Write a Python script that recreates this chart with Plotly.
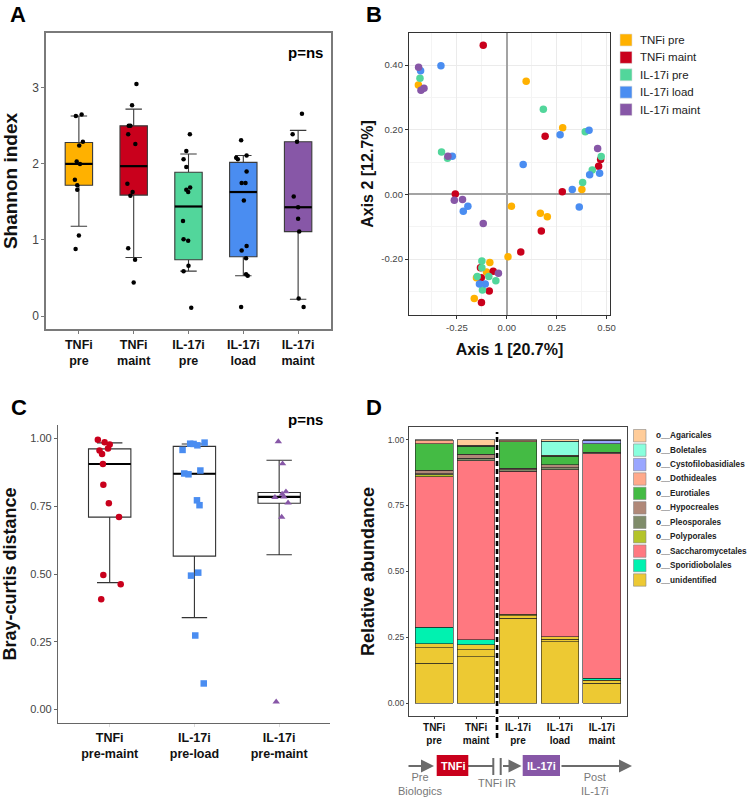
import plotly.graph_objects as go

W, H = 750, 799
FONT = "Liberation Sans, Arial, Helvetica, sans-serif"

# ---------------- data ----------------
groups = ["TNFi pre", "TNFi maint", "IL-17i pre", "IL-17i load", "IL-17i maint"]
group_ticks = ["TNFi<br>pre", "TNFi<br>maint", "IL-17i<br>pre", "IL-17i<br>load", "IL-17i<br>maint"]
group_colors = ["#FFB100", "#C9001C", "#52D69B", "#4A8DF1", "#8757A7"]

# A - Shannon index
shannon_q1 = [1.72, 1.59, 0.74, 0.78, 1.11]
shannon_med = [2.00, 1.97, 1.44, 1.63, 1.43]
shannon_q3 = [2.28, 2.50, 1.89, 2.02, 2.29]
shannon_lo = [1.18, 0.77, 0.59, 0.53, 0.22]
shannon_hi = [2.63, 2.72, 2.13, 2.11, 2.44]
shannon_pts = [
    [2.63, 2.65, 2.29, 2.24, 2.03, 2.00, 1.79, 1.72, 1.66, 1.06, 0.88],
    [3.05, 2.77, 2.50, 2.50, 2.39, 2.26, 1.74, 1.63, 1.58, 0.89, 0.74, 0.44],
    [2.39, 2.17, 2.06, 1.96, 1.69, 1.66, 1.63, 1.25, 1.01, 0.99, 0.66, 0.59, 0.11],
    [2.31, 2.11, 2.08, 2.06, 1.90, 1.75, 1.75, 1.52, 0.92, 0.86, 0.76, 0.55, 0.53, 0.12],
    [2.66, 2.39, 2.29, 1.57, 1.43, 1.28, 1.11, 0.23, 0.12],
]
shannon_jit = [
    [-0.055, 0.05, 0.073, 0.006, -0.04, 0.02, -0.073, -0.03, -0.03, 0.0, -0.06],
    [0.05, -0.03, -0.09, -0.06, -0.10, 0.03, -0.115, -0.02, -0.06, -0.10, 0.025, 0.0],
    [0.025, -0.04, -0.09, -0.04, 0.03, -0.04, -0.006, -0.10, -0.09, -0.006, 0.0, -0.09, 0.05],
    [-0.04, 0.06, -0.13, -0.10, 0.06, -0.03, 0.04, 0.01, 0.06, -0.03, 0.05, 0.05, 0.08, -0.04],
    [0.07, -0.10, -0.02, -0.08, 0.0, 0.0, 0.02, 0.01, 0.10],
]

# B - PCoA
pcoa_x = [
    [-0.443, -0.085, -0.102, -0.152, -0.163, 0.006, 0.097, 0.280, 0.376, 0.023, 0.168, 0.203],
    [-0.118, -0.258, -0.132, -0.068, -0.128, -0.088, -0.127, 0.070, 0.192, 0.470, 0.460, 0.278, 0.173],
    [-0.435, -0.327, -0.297, -0.125, -0.125, -0.148, -0.090, -0.055, -0.122, 0.183, 0.393, 0.473, 0.428, 0.380],
    [-0.432, -0.330, -0.273, -0.195, -0.218, -0.137, -0.108, 0.267, 0.412, 0.465, 0.415, 0.328, 0.082, 0.363],
    [-0.442, -0.430, -0.415, -0.295, -0.263, -0.222, -0.118, -0.042, 0.455],
]
pcoa_y = [
    [0.338, -0.211, -0.240, -0.258, -0.322, -0.193, 0.350, 0.206, 0.015, -0.037, -0.058, -0.069],
    [0.461, 0.001, -0.227, -0.238, -0.258, -0.299, -0.334, -0.178, 0.180, 0.108, 0.087, 0.008, -0.113],
    [0.359, 0.131, 0.112, -0.206, -0.227, -0.254, -0.254, -0.267, -0.296, 0.263, 0.194, 0.117, 0.075, 0.037],
    [0.382, 0.398, 0.118, -0.037, -0.052, -0.277, -0.277, 0.184, 0.198, 0.065, 0.061, 0.015, 0.092, -0.039],
    [0.393, 0.322, 0.328, 0.118, -0.018, -0.016, -0.090, -0.244, 0.142],
]

# C - Bray-curtis distance
bc_ticks = ["TNFi<br>pre-maint", "IL-17i<br>pre-load", "IL-17i<br>pre-maint"]
bc_colors = ["#C9001C", "#4A8DF1", "#8757A7"]
bc_symbols = ["circle", "square", "triangle-up"]
bc_q1 = [0.710, 0.566, 0.761]
bc_med = [0.906, 0.870, 0.785]
bc_q3 = [0.962, 0.971, 0.801]
bc_lo = [0.468, 0.339, 0.571]
bc_hi = [0.984, 0.980, 0.920]
bc_pts = [
    [0.996, 0.986, 0.978, 0.963, 0.956, 0.943, 0.906, 0.829, 0.761, 0.710, 0.496, 0.462, 0.407],
    [0.981, 0.980, 0.975, 0.985, 0.958, 0.871, 0.868, 0.882, 0.772, 0.754, 0.494, 0.505, 0.273, 0.096],
    [0.989, 0.907, 0.804, 0.795, 0.783, 0.785, 0.763, 0.710, 0.028],
]
bc_jit = [
    [-0.14, -0.06, 0.0, -0.02, -0.12, -0.09, -0.08, -0.075, -0.01, 0.11, -0.075, 0.13, -0.10],
    [-0.05, -0.01, 0.035, 0.12, -0.14, -0.12, -0.07, 0.07, 0.03, 0.06, -0.04, 0.045, 0.01, 0.11],
    [-0.01, 0.04, 0.08, 0.035, -0.05, 0.055, 0.105, 0.03, -0.035],
]

# D - relative abundance (stacked bottom -> top)
order_names = ["o__Agaricales", "o__Boletales", "o__Cystofilobasidiales", "o__Dothideales",
               "o__Eurotiales", "o__Hypocreales", "o__Pleosporales", "o__Polyporales",
               "o__Saccharomycetales", "o__Sporidiobolales", "o__unidentified"]
order_colors = ["#FFCC99", "#88FFDD", "#99A6FF", "#FFA98A", "#44BB44", "#B08878",
                "#7F8C6A", "#B4C42A", "#FF7880", "#00F2B0", "#EDC933"]
unid_a = [0.152, 0.176, 0.322, 0.233, 0.076]
unid_b = [0.058, 0.027, 0.009, 0.010, 0.010]
unid_c = [0.016, 0.019, 0.006, 0.008, 0.0]
sporidiobolales = [0.062, 0.018, 0.0, 0.0, 0.008]
saccharomycetales = [0.571, 0.680, 0.544, 0.635, 0.853]
polyporales = [0.008, 0.0, 0.0, 0.0, 0.0]
pleosporales = [0.004, 0.010, 0.005, 0.008, 0.0]
hypocreales = [0.012, 0.014, 0.006, 0.010, 0.005]
eurotiales = [0.102, 0.031, 0.100, 0.033, 0.033]
dothideales = [0.010, 0.004, 0.004, 0.004, 0.0]
cystofilobasidiales = [0.0, 0.0, 0.0, 0.0, 0.012]
boletales = [0.0, 0.0, 0.0, 0.052, 0.0]
agaricales = [0.005, 0.021, 0.004, 0.007, 0.003]


def xdom(a, b):
    return [a / W, b / W]


def ydom(top, bottom):
    return [1 - bottom / H, 1 - top / H]


def px(x):
    return x / W


def py(y):
    return 1 - y / H


def label(text, x, y, size, color="black", anchor="center", weight="normal"):
    return dict(text=text, x=px(x), y=py(y), xref="paper", yref="paper",
                xanchor=anchor, yanchor="middle", showarrow=False,
                font=dict(family=FONT, size=size, color=color, weight=weight))


fig = go.Figure()

# ---------- A ----------
for i, g in enumerate(groups):
    fig.add_trace(go.Box(x=[i], q1=[shannon_q1[i]], median=[shannon_med[i]], q3=[shannon_q3[i]],
                         lowerfence=[shannon_lo[i]], upperfence=[shannon_hi[i]],
                         width=0.5, whiskerwidth=0.6, fillcolor=group_colors[i],
                         line=dict(color="#3a3a3a", width=1.1), boxpoints=False,
                         xaxis="x", yaxis="y", showlegend=False, hoverinfo="skip"))
mx, my = [], []
for i, m in enumerate(shannon_med):
    mx += [i - 0.25, i + 0.25, None]
    my += [m, m, None]
fig.add_trace(go.Scatter(x=mx, y=my, mode="lines", line=dict(color="black", width=2.2),
                         xaxis="x", yaxis="y", showlegend=False, hoverinfo="skip"))
for i, pts in enumerate(shannon_pts):
    fig.add_trace(go.Scatter(x=[i + j for j in shannon_jit[i]], y=pts, mode="markers",
                             marker=dict(color="black", size=4.5), xaxis="x", yaxis="y",
                             showlegend=False))

# ---------- B ----------
for i, g in enumerate(groups):
    fig.add_trace(go.Scatter(x=pcoa_x[i], y=pcoa_y[i], mode="markers", name=g,
                             marker=dict(color=group_colors[i], size=7.5),
                             xaxis="x2", yaxis="y2", showlegend=False))

# ---------- C ----------
for i in range(len(bc_ticks)):
    fig.add_trace(go.Box(x=[i], q1=[bc_q1[i]], median=[bc_med[i]], q3=[bc_q3[i]],
                         lowerfence=[bc_lo[i]], upperfence=[bc_hi[i]],
                         width=0.5, whiskerwidth=0.6, fillcolor="white",
                         line=dict(color="#333333", width=1.1), boxpoints=False,
                         xaxis="x3", yaxis="y3", showlegend=False, hoverinfo="skip"))
mx, my = [], []
for i, m in enumerate(bc_med):
    mx += [i - 0.25, i + 0.25, None]
    my += [m, m, None]
fig.add_trace(go.Scatter(x=mx, y=my, mode="lines", line=dict(color="black", width=2.2),
                         xaxis="x3", yaxis="y3", showlegend=False, hoverinfo="skip"))
for i, pts in enumerate(bc_pts):
    fig.add_trace(go.Scatter(x=[i + j for j in bc_jit[i]], y=pts, mode="markers",
                             marker=dict(color=bc_colors[i], size=6.5, symbol=bc_symbols[i]),
                             xaxis="x3", yaxis="y3", showlegend=False))

# ---------- D ----------
stack = [
    (unid_a, "o__unidentified"), (unid_b, "o__unidentified"), (unid_c, "o__unidentified"),
    (sporidiobolales, "o__Sporidiobolales"), (saccharomycetales, "o__Saccharomycetales"),
    (polyporales, "o__Polyporales"), (pleosporales, "o__Pleosporales"),
    (hypocreales, "o__Hypocreales"), (eurotiales, "o__Eurotiales"),
    (dothideales, "o__Dothideales"), (cystofilobasidiales, "o__Cystofilobasidiales"),
    (boletales, "o__Boletales"), (agaricales, "o__Agaricales"),
]
for vals, name in stack:
    fig.add_trace(go.Bar(x=list(range(len(groups))), y=[v if v else None for v in vals],
                         name=name, width=0.9,
                         marker=dict(color=order_colors[order_names.index(name)],
                                     line=dict(color="#222222", width=0.6)),
                         xaxis="x4", yaxis="y4", showlegend=False))

# ---------- axes ----------
bold_tick = dict(family=FONT, size=12.5, color="#111111", weight="bold")
title_font = dict(family=FONT, size=19, color="#111111", weight="bold")

A_x, A_y = xdom(46, 331), ydom(33, 329)
B_x, B_y = xdom(409, 610), ydom(33, 315)
C_x, C_y = xdom(58, 330), ydom(425, 723)
D_x, D_y = xdom(409, 627), ydom(427, 716)
D_range = [-0.6, 4.6]

fig.update_layout(
    width=W, height=H, margin=dict(l=0, r=0, t=0, b=0, autoexpand=False),
    paper_bgcolor="white", plot_bgcolor="white", barmode="stack",
    font=dict(family=FONT), showlegend=False,
    xaxis=dict(domain=A_x, anchor="y", range=[-0.6, 4.6], tickvals=list(range(5)),
               ticktext=group_ticks, tickfont=bold_tick, showgrid=False, zeroline=False,
               showline=True, mirror=True, linecolor="#7a7a7a", linewidth=1.5,
               ticks="outside", ticklen=3, tickcolor="#7a7a7a", automargin=False),
    yaxis=dict(domain=A_y, anchor="x", range=[-0.17, 3.72], tickvals=[0, 1, 2, 3],
               tickfont=dict(family=FONT, size=12, color="#444444"), showgrid=False, zeroline=False,
               showline=True, mirror=True, linecolor="#7a7a7a", linewidth=1.5,
               ticks="outside", ticklen=3, tickcolor="#7a7a7a", automargin=False,
               title=dict(text="Shannon index", font=title_font, standoff=12)),
    xaxis2=dict(domain=B_x, anchor="y2", range=[-0.49, 0.517],
                tickvals=[-0.25, 0, 0.25, 0.5], ticktext=["-0.25", "0.00", "0.25", "0.50"],
                tickfont=dict(family=FONT, size=9.5, color="#444444"),
                showgrid=True, gridcolor="#EBEBEB", gridwidth=1,
                minor=dict(tickvals=[-0.375, -0.125, 0.125, 0.375], showgrid=True,
                           gridcolor="#F4F4F4", gridwidth=0.6),
                zeroline=True, zerolinecolor="#A3A3A3", zerolinewidth=1.5,
                showline=True, mirror=True, linecolor="#333333", linewidth=1.3,
                ticks="outside", ticklen=3, tickcolor="#333333", automargin=False,
                title=dict(text="Axis 1 [20.7%]", font=dict(family=FONT, size=16, color="#111111", weight="bold"), standoff=12)),
    yaxis2=dict(domain=B_y, anchor="x2", range=[-0.373, 0.499],
                tickvals=[-0.2, 0, 0.2, 0.4], ticktext=["-0.20", "0.00", "0.20", "0.40"],
                tickfont=dict(family=FONT, size=9.5, color="#444444"),
                showgrid=True, gridcolor="#EBEBEB", gridwidth=1,
                minor=dict(tickvals=[-0.3, -0.1, 0.1, 0.3], showgrid=True,
                           gridcolor="#F4F4F4", gridwidth=0.6),
                zeroline=True, zerolinecolor="#A3A3A3", zerolinewidth=1.5,
                showline=True, mirror=True, linecolor="#333333", linewidth=1.3,
                ticks="outside", ticklen=3, tickcolor="#333333", automargin=False,
                title=dict(text="Axis 2 [12.7%]", font=dict(family=FONT, size=16, color="#111111", weight="bold"), standoff=3)),
    xaxis3=dict(domain=C_x, anchor="y3", range=[-0.61, 2.6], tickvals=[0, 1, 2],
                ticktext=bc_ticks, tickfont=bold_tick, showgrid=False, zeroline=False,
                showline=True, linecolor="#666666", linewidth=1.3,
                ticks="outside", ticklen=3, tickcolor="#dddddd", automargin=False),
    yaxis3=dict(domain=C_y, anchor="x3", range=[-0.05, 1.05],
                tickvals=[0, 0.25, 0.5, 0.75, 1.0], ticktext=["0.00", "0.25", "0.50", "0.75", "1.00"],
                tickfont=dict(family=FONT, size=11, color="#444444"), showgrid=False, zeroline=False,
                showline=True, linecolor="#666666", linewidth=1.3,
                ticks="outside", ticklen=3, tickcolor="#666666", automargin=False,
                title=dict(text="Bray-curtis distance", font=dict(family=FONT, size=18, color="#111111", weight="bold"), standoff=12)),
    xaxis4=dict(domain=D_x, anchor="y4", range=D_range, tickvals=list(range(5)),
                ticktext=group_ticks, tickfont=dict(family=FONT, size=10, color="#111111", weight="bold"),
                showgrid=False, zeroline=False,
                showline=True, mirror=True, linecolor="#444444", linewidth=1.2,
                ticks="outside", ticklen=2, tickcolor="#444444", automargin=False),
    yaxis4=dict(domain=D_y, anchor="x4", range=[-0.049, 1.048],
                tickvals=[0, 0.25, 0.5, 0.75, 1.0], ticktext=["0.00", "0.25", "0.50", "0.75", "1.00"],
                tickfont=dict(family=FONT, size=8.5, color="#444444"), showgrid=False, zeroline=False,
                showline=True, mirror=True, linecolor="#444444", linewidth=1.2,
                ticks="outside", ticklen=2, tickcolor="#444444", automargin=False,
                title=dict(text="Relative abundance", font=dict(family=FONT, size=18, color="#111111", weight="bold"), standoff=8)),
)

shapes = []
annotations = []

# panel letters and p values
for letter, x, y in [("A", 18, 14), ("B", 374, 14), ("C", 19, 408), ("D", 374, 408)]:
    annotations.append(label(letter, x, y, 22, weight="bold"))
for x, y in [(305, 52), (305, 419)]:
    annotations.append(label("p=ns", x, y, 15, weight="bold"))

# legend B
for i, g in enumerate(groups):
    cy = 40 + i * 17.4
    shapes.append(dict(type="rect", xref="paper", yref="paper", x0=px(620), x1=px(632),
                       y0=py(cy + 6), y1=py(cy - 6), fillcolor=group_colors[i],
                       line=dict(color="#dddddd", width=0.6)))
    annotations.append(label(g, 638, cy, 11.5, color="#222222", anchor="left"))

# legend D
for i, name in enumerate(order_names):
    cy = 435.7 + i * 14.43
    shapes.append(dict(type="rect", xref="paper", yref="paper", x0=px(633.5), x1=px(646),
                       y0=py(cy + 6.2), y1=py(cy - 6.2), fillcolor=order_colors[i],
                       line=dict(color="#888888", width=0.6)))
    annotations.append(label(name, 654, cy, 8.2, color="#222222", anchor="left", weight="bold"))

# dashed separator in D between TNFi and IL-17i samples
sep = D_x[0] + (1.5 - D_range[0]) / (D_range[1] - D_range[0]) * (D_x[1] - D_x[0])
shapes.append(dict(type="line", xref="paper", yref="paper", x0=sep, x1=sep, y0=py(738), y1=py(432),
                   line=dict(color="white", width=4)))
shapes.append(dict(type="line", xref="paper", yref="paper", x0=sep, x1=sep, y0=py(738), y1=py(432),
                   line=dict(color="black", width=2.6, dash="5px,3px")))

# treatment timeline
gray = "#6b6b6b"
ty = 766
for x_tip, length in [(434, 27), (521.5, 20), (632, 72)]:
    annotations.append(dict(text="", x=px(x_tip), y=py(ty), xref="paper", yref="paper",
                            ax=-length, ay=0, showarrow=True, arrowhead=2, arrowsize=1.3,
                            arrowwidth=2, arrowcolor=gray))
shapes.append(dict(type="line", xref="paper", yref="paper", x0=px(468), x1=px(493.3),
                   y0=py(ty), y1=py(ty), line=dict(color=gray, width=2)))
for xb in [493.3, 500.7]:
    shapes.append(dict(type="line", xref="paper", yref="paper", x0=px(xb), x1=px(xb),
                       y0=py(758), y1=py(775), line=dict(color=gray, width=2)))
for text, x0, x1, col in [("TNFi", 436.7, 468.3, "#C9001C"), ("IL-17i", 522.7, 560, "#8757A7")]:
    shapes.append(dict(type="rect", xref="paper", yref="paper", x0=px(x0), x1=px(x1),
                       y0=py(776), y1=py(755), fillcolor=col, line=dict(width=0)))
    annotations.append(label(text, (x0 + x1) / 2, 765.5, 11, color="white", weight="bold"))
for text, x, y in [("Pre<br>Biologics", 420.5, 783.5), ("TNFi IR", 497.3, 782.7),
                   ("Post<br>IL-17i", 595, 783.5)]:
    annotations.append(label(text, x, y, 11, color="#777777"))

fig.update_layout(shapes=shapes, annotations=annotations)

# the page's default body margin would shift the figure by 8px
fig.write_html("out.html", config={"displayModeBar": False},
               post_script="document.body.style.margin = '0';")
